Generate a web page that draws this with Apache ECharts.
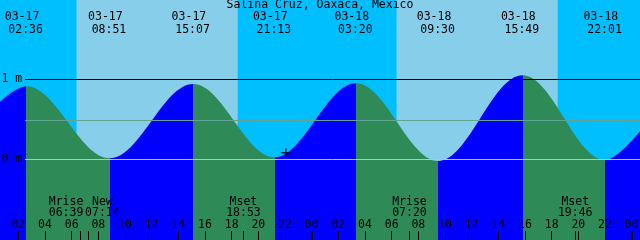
<!DOCTYPE html>
<html><head><meta charset="utf-8">
<script src="https://cdn.jsdelivr.net/npm/echarts@6/dist/echarts.min.js"></script>
<style>html,body{margin:0;padding:0;background:#00BFFF}#c{width:640px;height:240px}</style>
</head><body><div id="c"></div>
<script>
// ---------- data ----------
const titleText = 'Salina Cruz, Oaxaca, Mexico';
const tideDates = ['03-17','03-17','03-17','03-17','03-18','03-18','03-18','03-18'];
const tideClock = ['02:36','08:51','15:07','21:13','03:20','09:30','15:49','22:01'];
const tideLevels = [0.915, 0.015, 0.944, 0.028, 0.953, -0.019, 1.053, -0.006];
const edgeLevels = [0.72, 0.355];            // water level at left / right chart edge
const moonNames = ['Mrise','New','Mset','Mrise','Mset'];
const moonDates = ['03-17','03-17','03-17','03-18','03-18'];
const moonClock = ['06:39','07:14','18:53','07:20','19:46'];
const sunriseDates = ['03-17','03-18'];
const sunriseClock = ['06:22','06:22'];
const sunsetClock = ['18:27','18:27'];
const tickHours = [2,4,6,8,10,12,14,16,18,20,22,24,26,28,30,32,34,36,38,40,42,44,46,48];
const tickLabels = ['02','04','06','08','10','12','14','16','18','20','22','00',
                    '02','04','06','08','10','12','14','16','18','20','22','00'];
const midnightHours = [24,48];
const levelMarks = [1, 0.4875, 0];
const levelLabelValues = [1, 0];
const levelLabelTexts = ['1 m', '0 m'];
const nowDate = '03-17', nowClock = '22:04', nowLevel = 0.085;

// ---------- settings ----------
const viewStart = 0.625, viewHours = 48, viewEnd = viewStart + viewHours;
const yMin = -1.00625, yMax = 1.99375;
const FONT = '"DejaVu Sans Mono", monospace';
const FS = 11.5;
const C_NIGHT = '#00BFFF', C_DAY = '#87CEEB', C_FLOOD = '#0000FF', C_EBB = '#2E8B57';
const levelColors = ['#000000', '#62a396', '#8fd3ea'];

function toHours(date, clock) {
  const d = parseInt(date.slice(3), 10) - 17;
  const p = clock.split(':').map(Number);
  return d * 24 + p[0] + p[1] / 60;
}
const tideT = tideClock.map((c, i) => toHours(tideDates[i], c));
const moonT = moonClock.map((c, i) => toHours(moonDates[i], c));

const tideData = [[viewStart, edgeLevels[0]]]
  .concat(tideT.map((t, i) => [t, tideLevels[i]]))
  .concat([[viewEnd, edgeLevels[1]]]);

// flood / ebb pieces
const pieces = [];
for (let i = 0; i <= tideT.length; i++) {
  const lo = i === 0 ? -1000 : tideT[i - 1];
  const hi = i === tideT.length ? 1000 : tideT[i];
  let rising;
  if (i < tideT.length) rising = tideLevels[i] > (i === 0 ? edgeLevels[0] : tideLevels[i - 1]);
  else rising = edgeLevels[1] > tideLevels[i - 1];
  pieces.push({ gte: lo, lt: hi, color: rising ? C_FLOOD : C_EBB });
}

const dayAreas = sunriseDates.map((d, i) => [
  { xAxis: toHours(d, sunriseClock[i]), itemStyle: { color: C_DAY, opacity: 1 } },
  { xAxis: toHours(d, sunsetClock[i]) }
]);

const lineStart = viewStart + 25 / (640 / viewHours);
const markLines = levelMarks.map((v, i) => [
  { coord: [lineStart, v], lineStyle: { color: levelColors[i], width: 1, type: 'solid', opacity: 1 } },
  { coord: [viewEnd, v] }
]);

function txt(s, x, y, align) {
  return {
    type: 'text',
    style: { text: s, x: x, y: y, align: align || 'center', verticalAlign: 'middle',
             font: FS + 'px ' + FONT, fill: '#000000', opacity: 1 }
  };
}

const chart = echarts.init(document.getElementById('c'), null, { renderer: 'canvas' });
chart.setOption({
  animation: false,
  backgroundColor: C_NIGHT,
  title: {
    text: titleText, left: 'center', top: -1, padding: 0,
    textStyle: { fontFamily: FONT, fontSize: FS, fontWeight: 'normal', color: '#000' }
  },
  grid: { left: 0, right: 0, top: 0, bottom: 0 },
  xAxis: [{
    type: 'value', min: viewStart, max: viewEnd, z: 10, position: 'bottom', offset: 0,
    axisLine: { show: false, onZero: false }, splitLine: { show: false }, axisLabel: { show: false },
    axisTick: { inside: true, length: 9, customValues: tickHours.concat(moonT), lineStyle: { color: '#000', width: 1 } }
  }, {
    type: 'value', min: viewStart, max: viewEnd, z: 11, position: 'bottom', offset: 0,
    axisLine: { show: false, onZero: false }, splitLine: { show: false }, axisLabel: { show: false },
    axisTick: { inside: true, length: 9, customValues: midnightHours, lineStyle: { color: '#000', width: 2 } }
  }],
  yAxis: {
    type: 'value', min: yMin, max: yMax, z: 10,
    axisLine: { show: false, onZero: false }, splitLine: { show: false }, axisTick: { show: false },
    axisLabel: { show: false }
  },
  visualMap: { type: 'piecewise', show: false, dimension: 0, seriesIndex: 1, pieces: pieces },
  series: [
    {
      type: 'line', z: 1, data: [[viewStart, yMin], [viewEnd, yMin]], symbol: 'none',
      lineStyle: { opacity: 0 }, silent: true,
      markArea: { silent: true, data: dayAreas }
    },
    {
      type: 'line', z: 2, data: tideData, smooth: 0.36, smoothMonotone: 'x',
      symbol: 'none', lineStyle: { width: 0 },
      areaStyle: { origin: 'start', opacity: 1 }
    },
    {
      type: 'line', z: 3, data: [], symbol: 'none', silent: true,
      markLine: { silent: true, symbol: 'none', label: { show: false }, data: markLines }
    },
    {
      // tide event labels (date / time) at top
      type: 'custom', z: 4, silent: true, clip: false,
      data: tideT.map((t, i) => [t, tideLevels[i]]),
      renderItem: function (params, api) {
        const i = params.dataIndex;
        const x = api.coord([api.value(0), 0])[0];
        return { type: 'group', children: [txt(tideDates[i], x - 4.3, 17.5), txt(tideClock[i], x - 0.7, 30)] };
      }
    },
    {
      // moon event labels
      type: 'custom', z: 4, silent: true, clip: false,
      data: moonT.map(t => [t, 0]),
      renderItem: function (params, api) {
        const xs = moonT.map(t => api.coord([t, 0])[0]);
        const sep = 36.3;
        for (let k = 0; k < xs.length - 1; k++) {
          if (xs[k + 1] - xs[k] < sep) {
            const mid = (xs[k] + xs[k + 1]) / 2;
            xs[k] = mid - sep / 2; xs[k + 1] = mid + sep / 2;
          }
        }
        const i = params.dataIndex;
        return { type: 'group', children: [txt(moonNames[i], xs[i], 202), txt(moonClock[i], xs[i], 213.5)] };
      }
    },
    {
      // hour tick labels
      type: 'custom', z: 4, silent: true, clip: false,
      data: tickHours.map(h => [h, 0]),
      renderItem: function (params, api) {
        const x = api.coord([api.value(0), 0])[0];
        return txt(tickLabels[params.dataIndex], x, 225.3);
      }
    },
    {
      // level labels "1 m" / "0 m"
      type: 'custom', z: 4, silent: true, clip: false,
      data: levelLabelValues.map(v => [viewStart, v]),
      renderItem: function (params, api) {
        const y = api.coord([viewStart, api.value(1)])[1];
        return txt(levelLabelTexts[params.dataIndex], 1.5, y, 'left');
      }
    },
    {
      type: 'scatter', z: 5, silent: true,
      data: [[toHours(nowDate, nowClock), nowLevel]],
      symbol: 'path://M3.35,0H4.65V3.35H8V4.65H4.65V8H3.35V4.65H0V3.35H3.35Z',
      symbolSize: 9, itemStyle: { color: '#000' }
    }
  ]
});
</script>
</body></html>
